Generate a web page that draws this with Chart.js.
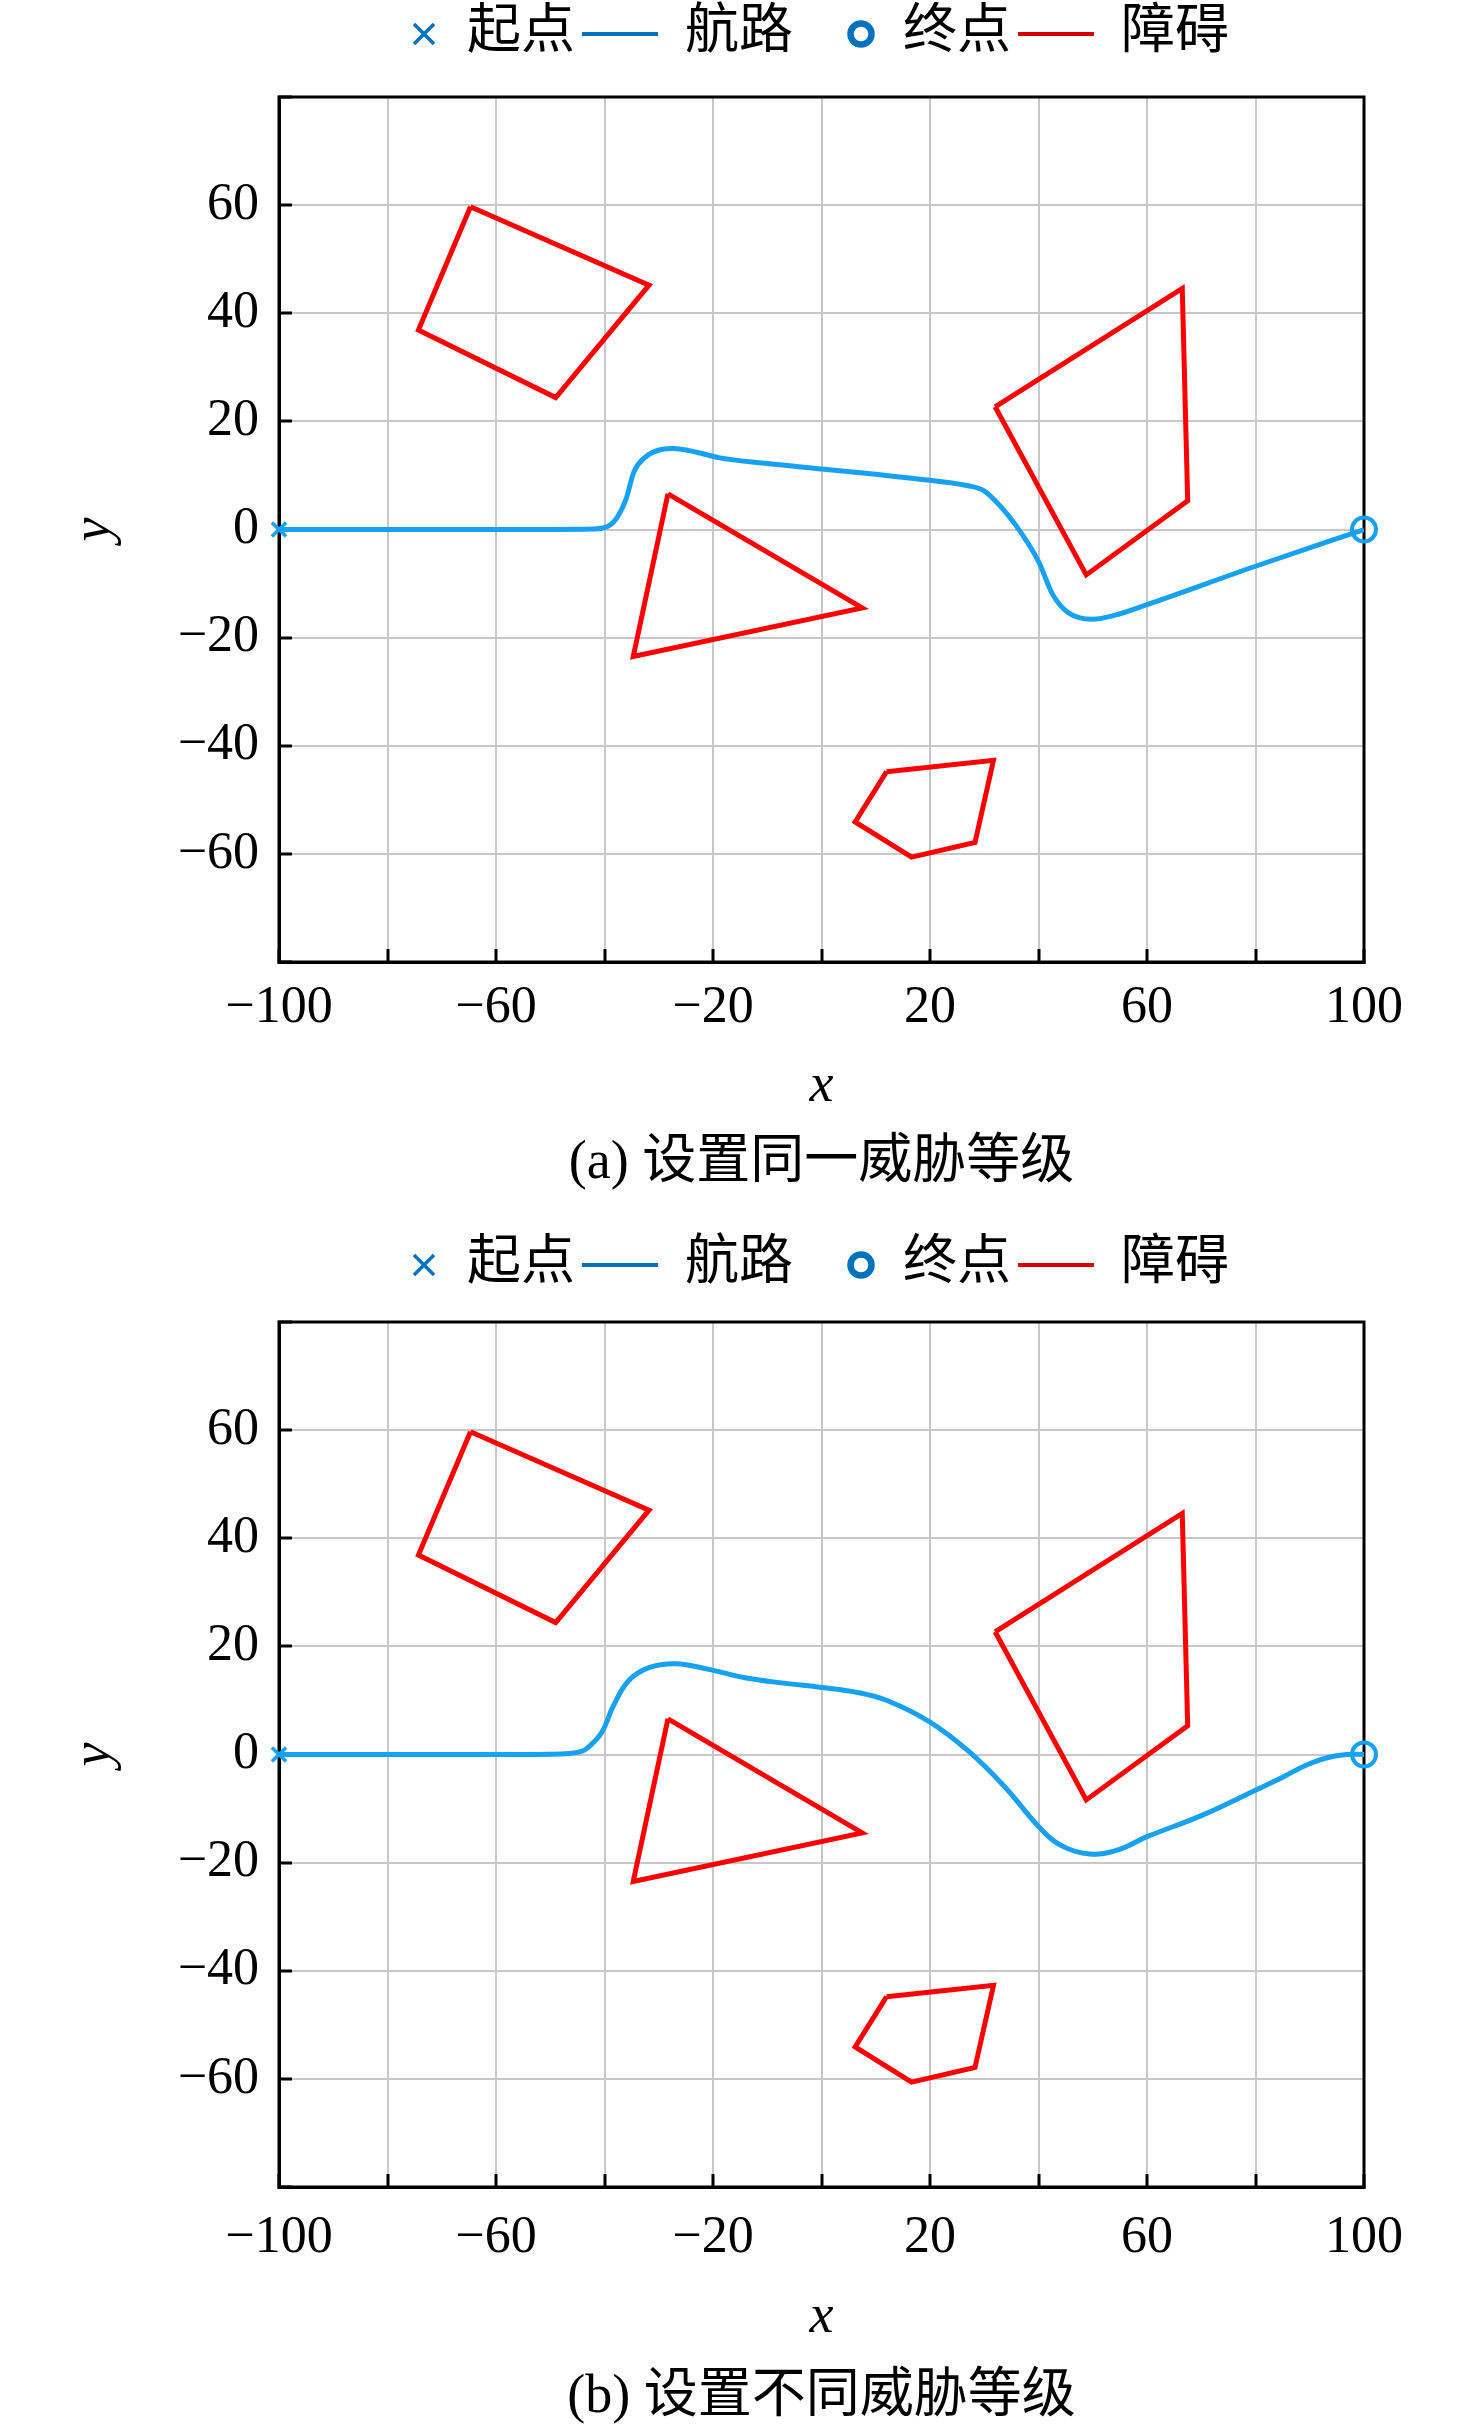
<!DOCTYPE html>
<html>
<head>
<meta charset="utf-8">
<script src="https://cdn.jsdelivr.net/npm/chart.js@4.4.1/dist/chart.umd.min.js"></script>
<style>
  html, body { margin: 0; padding: 0; background: #fff; }
  body { width: 1476px; height: 2433px; position: relative; overflow: hidden; }
  .panel { position: absolute; left: 0; width: 1476px; height: 1220px; }
  #pa { top: -12px; }
  #pb { top: 1213px; }
</style>
</head>
<body>
<div class="panel" id="pa"><canvas id="chartA"></canvas></div>
<div class="panel" id="pb"><canvas id="chartB"></canvas></div>
<script>
// tick labels shown on the axes
const xLabels = [-100, -60, -20, 20, 60, 100];
const yLabels = [-60, -40, -20, 0, 20, 40, 60];

// start / end points
const startPoint = [-100, 0];
const endPoint = [100, 0];

// route (a): same threat level
const pathA_x = [-100, -60, -42, -39, -37.5, -36, -34.6, -32.2, -29.5, -27.3, -23, -19, -10, 0, 10, 20, 27, 29.9, 32.8, 35.8, 40, 42.6, 45.5, 50, 54.3, 60, 80, 100];
const pathA_y = [0, 0, 0.1, 0.8, 2.5, 5.7, 10.6, 13.6, 14.8, 15.0, 14.3, 13.3, 12.2, 11.2, 10.2, 9.1, 8.1, 7.2, 4.5, 0.8, -5.9, -12, -15.4, -16.6, -15.8, -13.9, -6.8, 0];

// route (b): different threat levels
const pathB_x = [-100, -60, -48, -45, -43.4, -40.5, -38.5, -35.6, -31.7, -26.8, -21, -14.1, -7, 0, 6.5, 12.3, 20, 27, 33.8, 40.2, 44.3, 49.5, 54.5, 60, 70, 80, 85, 89.5, 93.2, 96.9, 100];
const pathB_y = [0, 0, 0.1, 0.4, 1.0, 4.1, 8.7, 13.6, 16.1, 16.8, 15.8, 14.2, 13.2, 12.4, 11.5, 9.9, 6.0, 0.7, -6, -13.5, -16.9, -18.4, -17.7, -15.2, -11.3, -6.6, -4.2, -1.9, -0.6, 0, 0];

// obstacles (polygon vertices)
const obs1_x = [-64.7, -31.8, -49, -74.3];
const obs1_y = [59.7, 45.2, 24.4, 36.9];
const obs2_x = [-28.3, 7.5, -34.7];
const obs2_y = [6.6, -14.5, -23.5];
const obs3_x = [32, 66.5, 67.5, 48.8];
const obs3_y = [22.7, 44.6, 5.3, -8.4];
const obs4_x = [12, 31.7, 28.3, 16.6, 6.2];
const obs4_y = [-44.8, -42.7, -57.9, -60.6, -54.1];

const serif = "'Liberation Serif', 'Noto Sans CJK SC', serif";
const pathColor = '#17A1F2';
const obsColor = '#FF0000';
const legendBlue = '#0072BD';
const legendRed = '#D70000';

function toPoints(xs, ys) {
  return xs.map((x, i) => ({ x: x, y: ys[i] }));
}
function closed(xs, ys) {
  return toPoints(xs.concat(xs[0]), ys.concat(ys[0]));
}
function fmt(v) {
  return v < 0 ? '\u2212' + Math.abs(v) : String(v);
}
function shown(list, v) {
  return list.some(t => Math.abs(t - v) < 1e-6);
}

// little legend icons
function icon(w, h, draw) {
  const c = document.createElement('canvas');
  c.width = w; c.height = h;
  draw(c.getContext('2d'));
  return c;
}
const icoStart = icon(76, 30, g => {
  g.strokeStyle = legendBlue; g.lineWidth = 3.5;
  g.beginPath();
  g.moveTo(50, 5); g.lineTo(70, 25);
  g.moveTo(70, 5); g.lineTo(50, 25);
  g.stroke();
});
const icoPath = icon(76, 6, g => { g.fillStyle = legendBlue; g.fillRect(0, 1, 76, 4); });
const icoEnd = icon(76, 36, g => {
  g.strokeStyle = legendBlue; g.lineWidth = 6.5;
  g.beginPath(); g.arc(61, 18, 10.5, 0, Math.PI * 2); g.stroke();
});
const icoObs = icon(76, 6, g => { g.fillStyle = legendRed; g.fillRect(0, 1, 76, 4); });

// black box round the plot
const frame = {
  id: 'frame',
  beforeDatasetsDraw(chart) {
    const a = chart.chartArea, c = chart.ctx;
    c.save();
    c.strokeStyle = '#000';
    c.lineWidth = 3;
    c.strokeRect(a.left, a.top, a.right - a.left, a.bottom - a.top);
    c.restore();
  }
};

function makeChart(id, caption, px, py, lay) {
  const obstacle = (xs, ys) => ({
    label: '障碍', data: closed(xs, ys), showLine: true, pointRadius: 0,
    borderColor: obsColor, borderWidth: 5, tension: 0, order: 2
  });

  // fixed legend height and a small shift to the left
  const legendBox = {
    id: 'legendBox',
    beforeInit(chart) {
      const fit = chart.legend.fit;
      chart.legend.fit = function () {
        fit.call(this);
        this.height = lay.legendH;
      };
    },
    afterLayout(chart) {
      chart.legend.left -= 25;
      chart.legend.right -= 25;
    }
  };

  new Chart(document.getElementById(id), {
    type: 'scatter',
    data: {
      datasets: [
        { label: '起点', data: [{ x: startPoint[0], y: startPoint[1] }], pointStyle: 'crossRot', pointRadius: 10,
          borderColor: pathColor, borderWidth: 3.5, clip: false, order: 0 },
        { label: '终点', data: [{ x: endPoint[0], y: endPoint[1] }], pointStyle: 'circle', pointRadius: 12,
          borderColor: pathColor, backgroundColor: 'rgba(0,0,0,0)', borderWidth: 4, clip: false, order: 0 },
        { label: '航路', data: toPoints(px, py), showLine: true, pointRadius: 0,
          borderColor: pathColor, borderWidth: 5, cubicInterpolationMode: lay.curve, tension: 0.4, order: 1 },
        obstacle(obs1_x, obs1_y),
        obstacle(obs2_x, obs2_y),
        obstacle(obs3_x, obs3_y),
        obstacle(obs4_x, obs4_y)
      ]
    },
    options: {
      responsive: true,
      maintainAspectRatio: false,
      animation: false,
      layout: { padding: { top: lay.top, right: 112, bottom: lay.bottom, left: 0 } },
      scales: {
        x: {
          type: 'linear', min: -100, max: 100,
          afterFit(s) { s.height = lay.xHeight; },
          ticks: {
            stepSize: 20, autoSkip: false, maxRotation: 0, padding: lay.tickPad, color: '#000',
            font: { family: serif, size: 52 },
            callback: v => shown(xLabels, v) ? fmt(v) : ''
          },
          grid: { color: '#c8c8c8', lineWidth: 2, tickLength: -13, tickColor: '#000', tickWidth: 3 },
          border: { color: '#000', width: 3 },
          title: { display: true, text: 'x', color: '#000',
            font: { family: serif, size: 54, style: 'italic' }, padding: { top: 0, bottom: lay.xTitlePad } }
        },
        y: {
          type: 'linear', min: -80, max: 80,
          afterFit(s) { s.width = 279; },
          ticks: {
            stepSize: 20, padding: 33, color: '#000',
            font: { family: serif, size: 52 },
            callback: v => shown(yLabels, v) ? fmt(v) : ''
          },
          grid: { color: '#c8c8c8', lineWidth: 2, tickLength: -13, tickColor: '#000', tickWidth: 3 },
          border: { color: '#000', width: 3 },
          title: { display: true, text: 'y', color: '#000',
            font: { family: serif, size: 54, style: 'italic' }, padding: { top: 62, bottom: 0 } }
        }
      },
      plugins: {
        tooltip: { enabled: false },
        legend: {
          position: 'top',
          fullSize: false,
          labels: {
            usePointStyle: true,
            pointStyleWidth: 76,
            padding: 7,
            color: '#000',
            font: { family: serif, size: 54 },
            generateLabels: () => [
              { text: '起点', pointStyle: icoStart, fontColor: '#000', lineWidth: 0, hidden: false, datasetIndex: 0 },
              { text: '航路', pointStyle: icoPath, fontColor: '#000', lineWidth: 0, hidden: false, datasetIndex: 2 },
              { text: '终点', pointStyle: icoEnd, fontColor: '#000', lineWidth: 0, hidden: false, datasetIndex: 1 },
              { text: '障碍', pointStyle: icoObs, fontColor: '#000', lineWidth: 0, hidden: false, datasetIndex: 3 }
            ]
          }
        },
        title: {
          display: true,
          position: 'bottom',
          fullSize: false,
          text: caption,
          color: '#000',
          font: { family: serif, size: 54, weight: 'normal', lineHeight: 1 },
          padding: { top: 0, bottom: 0 }
        }
      }
    },
    plugins: [frame, legendBox]
  });
}

makeChart('chartA', '(a) 设置同一威胁等级', pathA_x, pathA_y,
  { top: 12, legendH: 97, bottom: 17, xHeight: 175, tickPad: 28, xTitlePad: 18, curve: 'monotone' });
makeChart('chartB', '(b) 设置不同威胁等级', pathB_x, pathB_y,
  { top: 18, legendH: 91, bottom: 8, xHeight: 184, tickPad: 33, xTitlePad: 21, curve: 'default' });
</script>
</body>
</html>
